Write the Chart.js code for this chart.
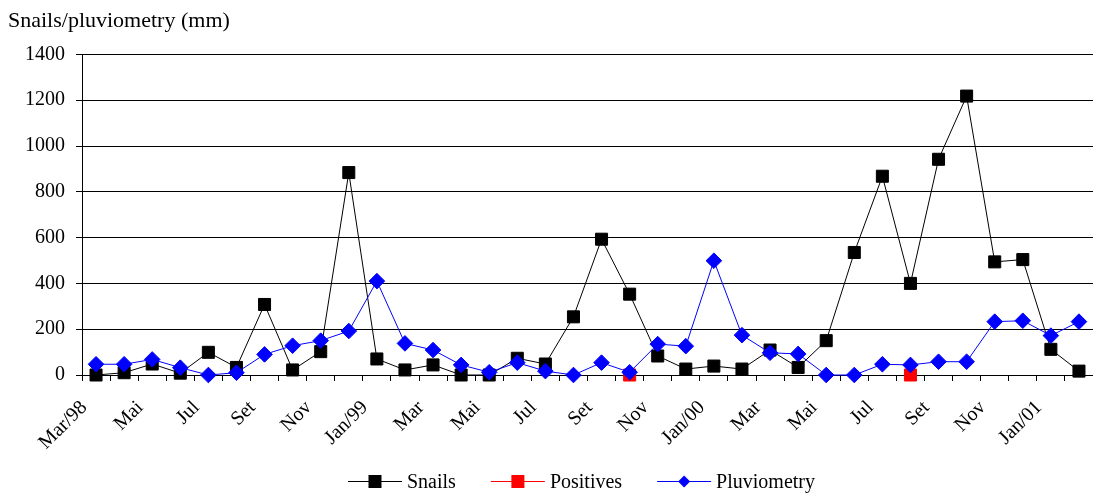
<!DOCTYPE html>
<html>
<head>
<meta charset="utf-8">
<script src="https://cdn.jsdelivr.net/npm/chart.js@4/dist/chart.umd.min.js"></script>
<style>
body { margin: 0; background: #fff; }
#wrap { width: 1093px; height: 493px; }
</style>
</head>
<body>
<div id="wrap"><canvas id="myChart"></canvas></div>
<script>
// month labels, only every second month is written on the axis
var months = ["Mar/98", "", "Mai", "", "Jul", "", "Set", "", "Nov", "", "Jan/99", "",
    "Mar", "", "Mai", "", "Jul", "", "Set", "", "Nov", "", "Jan/00", "",
    "Mar", "", "Mai", "", "Jul", "", "Set", "", "Nov", "", "Jan/01", ""];

var snails = [0, 10, 48, 8, 99, 33, 308, 22, 102, 884, 70, 22,
    44, 0, 0, 73, 48, 254, 593, 353, 83, 26, 39, 26,
    109, 33, 150, 535, 868, 400, 942, 1218, 494, 504, 112, 17];

var positives = [null, null, null, null, null, null, null, null, null, null, null, null,
    null, null, null, null, null, null, null, 0, null, null, null, null,
    null, null, null, null, null, 0, null, null, null, null, null, null];

var pluviometry = [47, 47, 68, 32, 0, 10, 90, 128, 150, 192, 410, 138,
    109, 44, 12, 54, 17, 0, 54, 12, 135, 126, 499, 174,
    97, 92, 0, 0, 47, 44, 58, 58, 233, 237, 172, 233];

var yTicks = [0, 200, 400, 600, 800, 1000, 1200, 1400];

var serif = '"Liberation Serif", "Times New Roman", serif';

function drawMarker(g, style, color, x, y) {
    g.fillStyle = color;
    g.beginPath();
    if (style === 'rect') {
        g.rect(x - 6.5, y - 6.5, 13, 13);
    } else {
        g.moveTo(x, y - 6);
        g.lineTo(x + 6, y);
        g.lineTo(x, y + 6);
        g.lineTo(x - 6, y);
        g.closePath();
    }
    g.fill();
}

// legend drawn as line + marker like the original
var lineLegend = {
    id: 'lineLegend',
    afterDraw: function(chart) {
        var ctx = chart.ctx;
        var area = chart.chartArea;
        var items = chart.data.datasets;
        ctx.save();
        ctx.font = '20px ' + serif;
        ctx.textBaseline = 'middle';
        var iconW = 54, gap = 5, spacing = 35;
        var total = 0;
        items.forEach(function(ds, i) {
            total += iconW + gap + ctx.measureText(ds.label).width;
            if (i > 0) total += spacing;
        });
        var x = (area.left + area.right) / 2 - total / 2 - 6;
        var y = chart.height - 10;
        items.forEach(function(ds) {
            ctx.strokeStyle = ds.borderColor;
            ctx.lineWidth = 1;
            ctx.beginPath();
            ctx.moveTo(x, y - 1.5);
            ctx.lineTo(x + iconW, y - 1.5);
            ctx.stroke();
            drawMarker(ctx, ds.pointStyle, ds.pointBackgroundColor, x + iconW / 2, y - 1.5);
            ctx.fillStyle = '#000';
            ctx.fillText(ds.label, x + iconW + gap, y);
            x += iconW + gap + ctx.measureText(ds.label).width + spacing;
        });
        ctx.restore();
    }
};

var ctx = document.getElementById("myChart");
var myChart = new Chart(ctx, {
    type: 'line',
    data: {
        labels: months,
        datasets: [
            {
                label: "Snails",
                data: snails,
                borderColor: "#000000",
                borderWidth: 1,
                pointStyle: 'rect',
                pointRadius: 8.5,
                pointBorderWidth: 1,
                pointBackgroundColor: "#000000",
                pointBorderColor: "#000000",
                clip: false,
                order: 3
            },
            {
                label: "Positives",
                data: positives,
                borderColor: "#FF0000",
                borderWidth: 1,
                pointStyle: 'rect',
                pointRadius: 8.5,
                pointBorderWidth: 1,
                pointBackgroundColor: "#FF0000",
                pointBorderColor: "#FF0000",
                clip: false,
                order: 2
            },
            {
                label: "Pluviometry",
                data: pluviometry,
                borderColor: "#0000FF",
                borderWidth: 1,
                pointStyle: 'rectRot',
                pointRadius: 7.8,
                pointBorderWidth: 1,
                pointBackgroundColor: "#0000FF",
                pointBorderColor: "#0000FF",
                clip: false,
                order: 1
            }
        ]
    },
    options: {
        responsive: true,
        maintainAspectRatio: false,
        animation: false,
        layout: { autoPadding: false, padding: { left: 8, right: 0, top: 0, bottom: 40 } },
        plugins: {
            legend: { display: false },
            tooltip: { enabled: false },
            title: {
                display: true,
                text: "Snails/pluviometry (mm)",
                align: 'start',
                color: '#000',
                font: { family: serif, size: 22, weight: 'normal' },
                padding: { top: 8, bottom: 20 }
            }
        },
        scales: {
            x: {
                offset: true,
                grid: {
                    offset: true,
                    drawOnChartArea: false,
                    color: '#000',
                    tickLength: 6
                },
                border: { color: '#000', width: 1 },
                ticks: {
                    autoSkip: false,
                    maxRotation: 45,
                    minRotation: 45,
                    color: '#000',
                    padding: 15,
                    labelOffset: -12,
                    font: { family: serif, size: 20 }
                },
                afterFit: function(scale) {
                    scale.height = 78;
                    scale.paddingLeft = 0;
                    scale.paddingRight = 0;
                }
            },
            y: {
                min: 0,
                max: 1400,
                afterBuildTicks: function(scale) {
                    scale.ticks = yTicks.map(function(v) { return { value: v }; });
                },
                grid: { color: '#000', tickLength: 6 },
                border: { color: '#000', width: 1 },
                ticks: {
                    color: '#000',
                    padding: 11,
                    font: { family: serif, size: 20 },
                    callback: function(v) { return String(v); }
                },
                afterFit: function(scale) { scale.width = 74; }
            }
        }
    },
    plugins: [lineLegend]
});
</script>
</body>
</html>
